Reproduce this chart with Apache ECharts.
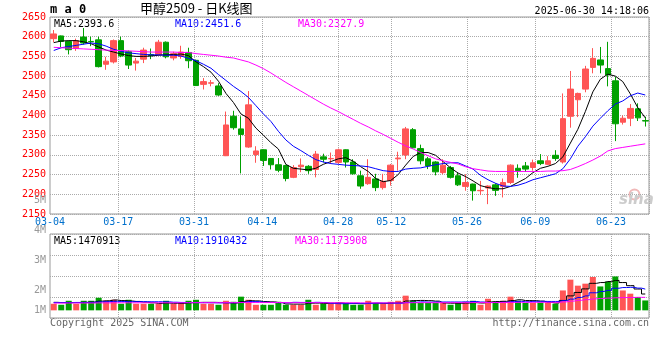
<!DOCTYPE html>
<html><head><meta charset="utf-8">
<script src="https://cdn.jsdelivr.net/npm/echarts@6/dist/echarts.min.js"></script>
<style>html,body{margin:0;padding:0;background:#fff}#c{width:660px;height:360px}</style>
</head><body><div id="c"></div>
<script>
const dates = ['03-04','03-05','03-06','03-07','03-10','03-11','03-12','03-13','03-14','03-17','03-18','03-19','03-20','03-21','03-24','03-25','03-26','03-27','03-28','03-31',
'04-01','04-02','04-03','04-07','04-08','04-09','04-10','04-11','04-14','04-15','04-16','04-17','04-18','04-21','04-22','04-23','04-24','04-25','04-28','04-29','04-30',
'05-06','05-07','05-08','05-09','05-12','05-13','05-14','05-15','05-16','05-19','05-20','05-21','05-22','05-23','05-26','05-27','05-28','05-29','05-30',
'06-03','06-04','06-05','06-06','06-09','06-10','06-11','06-12','06-13','06-16','06-17','06-18','06-19','06-20','06-23','06-24','06-25','06-26','06-27','06-30'];
const labelDates = ['03-04','03-17','03-31','04-14','04-28','05-12','05-26','06-09','06-23'];
const opens = [2595,2602,2588,2570,2599,2588,2592,2530,2536,2590,2562,2533,2543,2555,2554,2586,2546,2550,2560,2540,
2479,2482,2475,2298,2398,2366,2320,2301,2313,2291,2275,2273,2243,2270,2271,2263,2295,2290,2281,2313,
2282,2247,2227,2239,2217,2235,2290,2300,2364,2316,2290,2282,2255,2268,2247,2220,2226,2209,2216,2224,
2220,2230,2266,2272,2268,2285,2276,2299,2282,2398,2440,2467,2522,2541,2519,2488,2383,2393,2417,2387];
const closes = [2607,2588,2567,2590,2584,2587,2524,2538,2590,2551,2528,2538,2566,2552,2586,2549,2557,2561,2539,2476,
2486,2483,2452,2376,2369,2352,2427,2310,2286,2275,2261,2240,2268,2274,2260,2302,2289,2291,2313,2282,
2252,2221,2243,2217,2233,2274,2292,2366,2318,2285,2272,2257,2274,2243,2224,2230,2209,2210,2221,2210,
2230,2274,2260,2264,2280,2278,2285,2291,2392,2467,2456,2518,2545,2528,2503,2379,2393,2418,2394,2386];
const lows = [2586,2573,2555,2564,2580,2576,2522,2516,2532,2548,2518,2514,2533,2543,2552,2545,2540,2544,2520,2475,
2466,2474,2450,2297,2364,2253,2318,2280,2272,2263,2256,2233,2241,2256,2252,2243,2281,2277,2277,2268,
2250,2214,2224,2208,2212,2222,2260,2289,2316,2276,2264,2248,2251,2240,2221,2209,2184,2198,2175,2196,
2192,2226,2242,2257,2260,2274,2274,2285,2278,2369,2396,2459,2507,2507,2474,2335,2377,2373,2386,2372];
const highs = [2617,2603,2590,2595,2622,2600,2600,2549,2593,2600,2565,2546,2572,2570,2592,2588,2562,2577,2572,2542,
2495,2490,2482,2410,2412,2398,2462,2322,2314,2292,2292,2275,2274,2291,2274,2310,2303,2306,2316,2314,
2289,2260,2289,2252,2252,2277,2308,2371,2368,2326,2295,2284,2289,2272,2255,2251,2227,2234,2223,2228,
2240,2276,2276,2282,2288,2302,2297,2312,2456,2513,2458,2526,2571,2574,2587,2498,2400,2429,2431,2397];
const ma5 = [2585,2589,2590,2590,2587,2582,2574,2566,2561,2556,2552,2550,2550,2551,2553,2554,2555,2556,2552,2536,
2524,2510,2487,2456,2433,2404,2393,2368,2350,2331,2315,2276,2266,2264,2262,2266,2276,2283,2290,2293,
2284,2270,2258,2240,2232,2235,2250,2274,2296,2306,2306,2299,2283,2267,2254,2245,2234,2222,2217,2214,
2214,2220,2230,2240,2255,2266,2271,2278,2295,2330,2365,2410,2460,2492,2505,2500,2486,2455,2420,2394];
const ma10 = [2565,2572,2575,2578,2581,2584,2582,2576,2568,2563,2559,2557,2555,2554,2554,2553,2553,2551,2545,2539,
2530,2520,2504,2489,2474,2461,2446,2425,2404,2385,2360,2338,2322,2311,2299,2288,2282,2278,2276,2274,
2273,2272,2270,2265,2260,2258,2258,2264,2266,2267,2271,2275,2278,2280,2280,2272,2264,2248,2237,2228,
2221,2220,2223,2229,2237,2242,2247,2252,2265,2290,2322,2346,2373,2393,2412,2429,2437,2450,2457,2452];
const ma30 = [2573,2572,2571,2570,2569,2568,2567,2566,2565,2565,2564,2563,2562,2561,2561,2561,2561,2560,2560,2557,
2555,2553,2551,2548,2546,2541,2536,2528,2519,2508,2496,2484,2473,2462,2451,2440,2429,2419,2410,2400,
2390,2380,2371,2361,2352,2342,2332,2323,2315,2306,2298,2290,2285,2281,2277,2270,2265,2262,2259,2258,
2258,2258,2258,2258,2258,2258,2259,2259,2260,2263,2270,2278,2287,2297,2310,2316,2319,2322,2325,2328];
const vols = [590000,500000,860000,590000,860000,860000,1130000,860000,950000,590000,
950000,590000,590000,590000,590000,860000,590000,590000,860000,950000,
590000,590000,500000,860000,770000,1230000,950000,500000,500000,500000,
770000,500000,500000,500000,950000,500000,600000,600000,700000,660000,
500000,500000,860000,660000,590000,770000,860000,1320000,860000,660000,
660000,660000,660000,500000,660000,770000,860000,500000,1040000,770000,
860000,1230000,860000,660000,660000,700000,700000,600000,1790000,2760000,
2220000,2400000,3000000,2150000,2580000,3050000,1790000,1500000,1200000,890000];
const vma5 = [720000,700000,690000,700000,720000,740000,830000,860000,930000,880000,
840000,800000,730000,680000,620000,650000,630000,620000,680000,710000,
720000,720000,710000,680000,660000,790000,870000,850000,790000,760000,
700000,570000,560000,560000,640000,650000,620000,640000,670000,630000,
610000,590000,640000,640000,620000,660000,690000,840000,880000,890000,
870000,830000,660000,640000,630000,650000,690000,660000,760000,790000,
810000,880000,950000,880000,870000,830000,720000,660000,890000,1300000,
1610000,1930000,2430000,2500000,2590000,2690000,2500000,2220000,1920000,1470000];
const vma10 = [700000,700000,700000,710000,710000,720000,760000,780000,810000,800000,
780000,780000,780000,770000,770000,760000,730000,710000,700000,690000,
690000,680000,670000,680000,680000,720000,790000,780000,730000,710000,
690000,680000,720000,710000,700000,720000,700000,630000,600000,600000,
630000,620000,620000,650000,650000,640000,630000,700000,730000,760000,
740000,750000,750000,750000,750000,760000,790000,750000,700000,710000,
730000,780000,810000,770000,810000,810000,800000,800000,870000,1010000,
1160000,1300000,1580000,1700000,1800000,1990000,2050000,2070000,2000000,1910000];
const vma30 = [650000,650000,660000,660000,660000,660000,670000,670000,680000,680000,
680000,680000,680000,680000,680000,680000,680000,680000,690000,690000,
690000,690000,690000,690000,690000,700000,700000,700000,700000,700000,
700000,690000,690000,690000,690000,690000,680000,680000,680000,680000,
680000,670000,670000,670000,670000,670000,670000,680000,690000,690000,
690000,690000,690000,690000,690000,690000,700000,700000,700000,700000,
700000,710000,720000,720000,720000,720000,720000,720000,760000,830000,
900000,960000,1030000,1070000,1100000,1130000,1150000,1160000,1170000,1170000];
const priceLegend = ['MA5:2393.6','MA10:2451.6','MA30:2327.9'];
const volLegend = ['MA5:1470913','MA10:1910432','MA30:1173908'];
const volTickLabels = ['','1M','2M','3M','4M','5M'];

const mono = '"DejaVu Sans Mono", monospace';
const dotted = {color:'#aaaaaa', type:[1,1], width:1};
const UP = '#ff5555', DOWN = '#00a000';
const gridDates = dates.slice(0, dates.length - 1);
const isLabel = (i, v) => labelDates.indexOf(v) >= 0;
const isSplit = (i, v) => i > 0 && labelDates.indexOf(v) >= 0;

const chart = echarts.init(document.getElementById('c'), null, {renderer:'canvas'});
chart.setOption({
  animation: false,
  backgroundColor: '#fff',
  grid: [
    {left:50, right:11, top:17, height:197, show:true, borderColor:'#999', borderWidth:1, backgroundColor:'transparent'},
    {left:50, right:11, top:234, height:84, show:true, borderColor:'#999', borderWidth:1, backgroundColor:'transparent'},
    {left:50, right:11, top:169.8, height:181.2, show:false}
  ],
  xAxis: [
    {gridIndex:0, type:'category', data:dates, show:false},
    {gridIndex:0, type:'category', data:gridDates, position:'bottom', axisLine:{show:false}, axisTick:{show:false},
      axisLabel:{interval:isLabel, color:'#0070cc', fontFamily:mono, fontSize:10, margin:3, padding:[0,7.6,0,0]},
      splitLine:{show:true, interval:isSplit, lineStyle:dotted}},
    {gridIndex:1, type:'category', data:dates, show:false},
    {gridIndex:1, type:'category', data:gridDates, axisLine:{show:false}, axisTick:{show:false}, axisLabel:{show:false},
      splitLine:{show:true, interval:isSplit, lineStyle:dotted}},
    {gridIndex:2, type:'category', data:dates, show:false}
  ],
  yAxis: [
    {gridIndex:0, type:'value', position:'left', min:2150, max:2650, interval:50, axisLine:{show:false}, axisTick:{show:false},
      axisLabel:{color:'#ff0000', fontFamily:mono, fontSize:10, margin:4, formatter:(v)=>String(v)}, splitLine:{show:true, lineStyle:dotted}},
    {gridIndex:1, type:'value', position:'right', min:-690000, max:6870000, show:false, splitLine:{show:false}},
    {gridIndex:1, type:'value', position:'left', min:0, max:4, interval:1, axisLine:{show:false}, axisTick:{show:false},
      axisLabel:{show:false}, splitLine:{show:true, lineStyle:dotted}},
    {gridIndex:2, type:'value', position:'left', min:0, max:6, interval:1, axisLine:{show:false}, axisTick:{show:false},
      splitLine:{show:false},
      axisLabel:{color:'#999', fontFamily:mono, fontSize:10, margin:4,
        formatter:(v)=> v === 1 ? '{low|' + volTickLabels[v] + '}' : (volTickLabels[v] || ''),
        rich:{low:{color:'#999', fontFamily:mono, fontSize:10, padding:[0,0,20,0]}}}}
  ],
  series: [
    {type:'candlestick', xAxisIndex:0, yAxisIndex:0, barWidth:6,
      data: dates.map((d,i)=>[opens[i], closes[i], lows[i], highs[i]]),
      itemStyle:{color:UP, color0:DOWN, borderColor:UP, borderColor0:DOWN, borderWidth:1}},
    {type:'line', xAxisIndex:0, yAxisIndex:0, data:ma5, symbol:'none', lineStyle:{color:'#000', width:1}},
    {type:'line', xAxisIndex:0, yAxisIndex:0, data:ma10, symbol:'none', lineStyle:{color:'#0000ff', width:1}},
    {type:'line', xAxisIndex:0, yAxisIndex:0, data:ma30, symbol:'none', lineStyle:{color:'#ff00ff', width:1}},
    {type:'bar', xAxisIndex:2, yAxisIndex:1, barWidth:6,
      data: vols.map((v,i)=>({value:v, itemStyle:{color: closes[i] >= opens[i] ? UP : DOWN}}))},
    {type:'line', xAxisIndex:2, yAxisIndex:1, data:vma5, step:'middle', symbol:'none', lineStyle:{color:'#000', width:1}},
    {type:'line', xAxisIndex:2, yAxisIndex:1, data:vma10, step:'middle', symbol:'none', lineStyle:{color:'#0000ff', width:1}},
    {type:'line', xAxisIndex:2, yAxisIndex:1, data:vma30, step:'middle', symbol:'none', lineStyle:{color:'#ff00ff', width:1}}
  ],
  graphic: [
    {type:'text', left:50, top:4, style:{text:'m a 0', font:'bold 12px ' + mono, fill:'#000'}},
    {type:'text', left:140, top:2, style:{text:'甲醇2509 - 日K线图', font:'13px "Noto Sans CJK SC"', fill:'#000'}},
    {type:'text', right:11, top:6, style:{text:'2025-06-30 14:18:06', font:'10px ' + mono, fill:'#000'}},
    {type:'text', left:54, top:19, style:{text:priceLegend[0], font:'10px ' + mono, fill:'#000'}},
    {type:'text', left:175, top:19, style:{text:priceLegend[1], font:'10px ' + mono, fill:'#0000ff'}},
    {type:'text', left:298, top:19, style:{text:priceLegend[2], font:'10px ' + mono, fill:'#ff00ff'}},
    {type:'text', left:54, top:236, style:{text:volLegend[0], font:'10px ' + mono, fill:'#000'}},
    {type:'text', left:175, top:236, style:{text:volLegend[1], font:'10px ' + mono, fill:'#0000ff'}},
    {type:'text', left:295, top:236, style:{text:volLegend[2], font:'10px ' + mono, fill:'#ff00ff'}},
    {type:'text', left:50, top:318, style:{text:'Copyright 2025 SINA.COM', font:'10px ' + mono, fill:'#666'}},
    {type:'text', right:11, top:318, style:{text:'http://finance.sina.com.cn', font:'10px ' + mono, fill:'#666'}},
    {type:'circle', left:627, top:187, shape:{r:5}, style:{fill:'none', stroke:'#f0b8b8', lineWidth:2}},
    {type:'text', left:619, top:193, style:{text:'sina', font:'italic bold 15px "DejaVu Sans"', fill:'#cccccc'}}
  ]
});
</script></body></html>
